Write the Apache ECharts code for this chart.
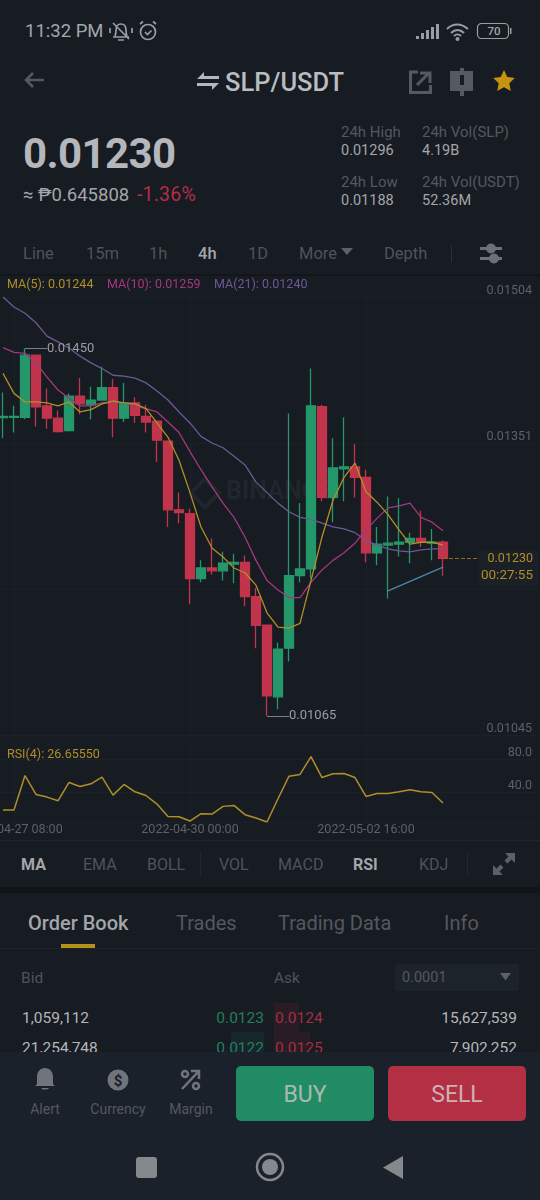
<!DOCTYPE html>
<html>
<head>
<meta charset="utf-8">
<title>SLP/USDT</title>
<script src="https://cdn.jsdelivr.net/npm/echarts@6/dist/echarts.min.js"></script>
<style>
html, body { margin: 0; padding: 0; background: #171b22; }
#page { position: relative; width: 540px; height: 1200px; overflow: hidden; background: #171b22; font-family: Roboto, "Noto Sans", sans-serif; }
#kline { position: absolute; left: 0; top: 276px; width: 540px; height: 564px; }
.t { position: absolute; white-space: nowrap; line-height: 24px; height: 24px; }
.box { position: absolute; }
svg { position: absolute; overflow: visible; }
</style>
</head>
<body>
<div id="page">
  <div class="box" style="left:0;top:274px;width:540px;height:2px;background:#12151a"></div>
  <div id="kline"></div>
  <div class="box" style="left:0;top:840px;width:540px;height:1px;background:#20252c"></div>
  <div class="box" style="left:0;top:887px;width:540px;height:6px;background:#111418"></div>
  <div class="box" style="left:0;top:948px;width:540px;height:1px;background:#1e232a"></div>
  <div class="box" style="left:61px;top:944px;width:34px;height:4px;background:#b4901c"></div>
  <div class="box" style="left:395px;top:964px;width:124px;height:27px;background:#1d232b;border-radius:3px"></div>
  <div class="box" style="left:274px;top:1003px;width:25px;height:49px;background:#2a1c25"></div>
  <div class="box" style="left:299px;top:1032px;width:11px;height:20px;background:#2a1c25"></div>
  <div class="box" style="left:231px;top:1032px;width:33px;height:20px;background:#16262a"></div>
  <div id="texts"></div>
  <div class="box" style="left:0;top:1052px;width:540px;height:148px;background:#1b212a"></div>
  <div class="box" style="left:236px;top:1066px;width:138px;height:55px;background:#218c63;border-radius:5px"></div>
  <div class="box" style="left:388px;top:1066px;width:138px;height:55px;background:#b32f44;border-radius:5px"></div>
  <div id="texts2"></div>

  <!-- status bar icons -->
  <svg style="left:110px;top:20px" width="50" height="24" fill="none" stroke="#9a9da2" stroke-width="1.7">
    <path d="M3 17h16M5 16c1-2 1-4 1-6 0-4 2-6 5-6s5 2 5 6c0 2 0 4 1 6M8 20h6M3 3l16 16M0 8v5M22 8v5"/>
    <circle cx="38" cy="12" r="7.5"/><path d="M35 12l2.5 2.5 4-4M30 4l3-2.500M46 4l-3-2.500"/>
  </svg>
  <svg style="left:416px;top:22px" width="100" height="20">
    <rect x="0" y="14" width="3" height="3" fill="#9a9da2"/><rect x="5" y="11" width="3" height="6" fill="#9a9da2"/>
    <rect x="10" y="8" width="3" height="9" fill="#9a9da2"/><rect x="15" y="5" width="3" height="12" fill="#9a9da2"/><rect x="20" y="2" width="3" height="15" fill="#9a9da2"/>
    <g fill="none" stroke="#9a9da2" stroke-width="2"><path d="M31 7c6-6 14-6 21 0M35 11c4-4 9-4 13 0M38 14c2-2 5-2 7 0"/></g>
    <circle cx="41.500" cy="17" r="2" fill="#9a9da2"/>
    <rect x="61.500" y="1.500" width="31" height="15" rx="4" fill="none" stroke="#9a9da2" stroke-width="1.200"/>
    <rect x="94" y="6" width="1.500" height="6" fill="#9a9da2"/>
  </svg>
  <!-- header icons -->
  <svg style="left:23px;top:70px" width="22" height="20" fill="none" stroke="#555a62" stroke-width="2.600"><path d="M21 10H3M10 3l-7 7 7 7"/></svg>
  <svg style="left:197px;top:70px" width="24" height="24" fill="#b4b7bb"><path d="M0 9l7-7v4h15v3zM22 13l-7 7v-4H0v-3h22z"/></svg>
  <svg style="left:409px;top:70px" width="24" height="24" fill="none" stroke="#555a62" stroke-width="3"><path d="M9 2H1.500v20.500h20V15M8 15L19 4M11 3h10v10"/></svg>
  <svg style="left:450px;top:68px" width="24" height="28" fill="#555a62"><rect x="0" y="3" width="10" height="20"/><rect x="14" y="3" width="9" height="20"/><rect x="10" y="0" width="4" height="28"/><rect x="10" y="7" width="4" height="10" fill="#171b22"/></svg>
  <svg style="left:493px;top:70px" width="22" height="22" fill="#c4930f"><path d="M11 0l3.300 7 7.500 1-5.500 5.200 1.500 7.800-6.800-3.800L4.200 21l1.500-7.800L.2 8l7.500-1z"/></svg>
  <!-- tab bar -->
  <svg style="left:341px;top:248px" width="13" height="8" fill="#5c6068"><path d="M0 0h12l-6 7z"/></svg>
  <div class="box" style="left:451px;top:245px;width:1px;height:17px;background:#2b3037"></div>
  <svg style="left:480px;top:243px" width="22" height="22" fill="#6d7177"><rect x="0" y="4" width="22" height="3"/><rect x="0" y="14" width="22" height="3"/><circle cx="11" cy="5.500" r="5"/><circle cx="14" cy="15.500" r="5"/></svg>
  <!-- indicator bar -->
  <div class="box" style="left:200px;top:852px;width:1px;height:24px;background:#23282f"></div>
  <div class="box" style="left:467px;top:852px;width:1px;height:24px;background:#23282f"></div>
  <svg style="left:493px;top:853px" width="22" height="22" fill="#5c6068"><path d="M22 0v10l-3.500-3.500-4 4-3-3 4-4L12 0zM0 22V12l3.500 3.500 4-4 3 3-4 4L10 22z"/></svg>
  <!-- order book arrow -->
  <svg style="left:500px;top:973px" width="12" height="8" fill="#5c6068"><path d="M0 0h11l-5.500 7.500z"/></svg>
  <!-- bottom bar icons -->
  <svg style="left:35px;top:1067px" width="20" height="24" fill="#71757b"><path d="M10 1c5 0 8 4 8 9v7l2 2H0l2-2v-7c0-5 3-9 8-9zM6 21h8c-1 2-7 2-8 0z"/></svg>
  <svg style="left:107px;top:1069px" width="22" height="22"><circle cx="11" cy="11" r="10.500" fill="#71757b"/><text x="11" y="16.500" text-anchor="middle" font-family="Roboto" font-weight="700" font-size="15" fill="#1b212a">$</text></svg>
  <svg style="left:180px;top:1069px" width="22" height="22" fill="none" stroke="#71757b" stroke-width="2.500"><circle cx="5" cy="5" r="3"/><circle cx="16" cy="17" r="3"/><path d="M2 20L18 3M11 2h8v8"/></svg>
  <!-- nav bar -->
  <svg style="left:136px;top:1156px" width="22" height="22" fill="#85888d"><rect x="0" y="1" width="21" height="21" rx="3"/></svg>
  <svg style="left:255px;top:1152px" width="30" height="30"><circle cx="15" cy="15" r="13" fill="none" stroke="#85888d" stroke-width="2.500"/><circle cx="15" cy="15" r="8" fill="#85888d"/></svg>
  <svg style="left:383px;top:1156px" width="21" height="24" fill="#85888d"><path d="M20 0v23L0 11.500z"/></svg>
</div>
<script>
// chart data
var times = [
    '2022-04-27 04:00', '2022-04-27 08:00', '2022-04-27 12:00', '2022-04-27 16:00', '2022-04-27 20:00', '2022-04-28 00:00',
    '2022-04-28 04:00', '2022-04-28 08:00', '2022-04-28 12:00', '2022-04-28 16:00', '2022-04-28 20:00', '2022-04-29 00:00',
    '2022-04-29 04:00', '2022-04-29 08:00', '2022-04-29 12:00', '2022-04-29 16:00', '2022-04-29 20:00', '2022-04-30 00:00',
    '2022-04-30 04:00', '2022-04-30 08:00', '2022-04-30 12:00', '2022-04-30 16:00', '2022-04-30 20:00', '2022-05-01 00:00',
    '2022-05-01 04:00', '2022-05-01 08:00', '2022-05-01 12:00', '2022-05-01 16:00', '2022-05-01 20:00', '2022-05-02 00:00',
    '2022-05-02 04:00', '2022-05-02 08:00', '2022-05-02 12:00', '2022-05-02 16:00', '2022-05-02 20:00', '2022-05-03 00:00',
    '2022-05-03 04:00', '2022-05-03 08:00', '2022-05-03 12:00', '2022-05-03 16:00', '2022-05-03 20:00'
];
var opens = [0.013775, 0.01378, 0.01378, 0.01443, 0.0139, 0.01377, 0.01364, 0.014, 0.01391, 0.01396, 0.01409, 0.01377, 0.01393, 0.01379, 0.01374, 0.01353, 0.01281, 0.01277, 0.01209, 0.0122, 0.01217, 0.01224, 0.01226, 0.0119, 0.0116, 0.01085, 0.01136, 0.01212, 0.01219, 0.01389, 0.01294, 0.01324, 0.01326, 0.01315, 0.01236, 0.01244, 0.01245, 0.01247, 0.01251, 0.01246, 0.01247];
var closes = [0.01379, 0.01379, 0.01443, 0.01389, 0.01377, 0.01363, 0.014, 0.01392, 0.01396, 0.01409, 0.01377, 0.01393, 0.0138, 0.01373, 0.01354, 0.01281, 0.01278, 0.01209, 0.0122, 0.01217, 0.01225, 0.01226, 0.0119, 0.0116, 0.01086, 0.01135, 0.01212, 0.01219, 0.0139, 0.01294, 0.01325, 0.01326, 0.01315, 0.01236, 0.01245, 0.01246, 0.01247, 0.01251, 0.01248, 0.01247, 0.0123];
var lows = [0.01356, 0.01362, 0.01376, 0.01368, 0.01366, 0.01362, 0.01363, 0.01381, 0.01376, 0.01396, 0.01357, 0.01373, 0.01372, 0.01362, 0.01331, 0.01263, 0.01267, 0.01182, 0.01205, 0.01213, 0.01207, 0.01204, 0.0118, 0.01136, 0.01065, 0.01072, 0.01122, 0.01205, 0.01209, 0.0129, 0.01268, 0.0129, 0.01294, 0.01226, 0.01223, 0.01188, 0.01232, 0.01225, 0.01242, 0.01228, 0.01212];
var highs = [0.01404, 0.0139, 0.0145, 0.01443, 0.01408, 0.01385, 0.01403, 0.01419, 0.0141, 0.01431, 0.01418, 0.01414, 0.01399, 0.01391, 0.01374, 0.01353, 0.01299, 0.01282, 0.01228, 0.01251, 0.01237, 0.01235, 0.01233, 0.01199, 0.0116, 0.01142, 0.01382, 0.01288, 0.01429, 0.01391, 0.01356, 0.01378, 0.0135, 0.01323, 0.01263, 0.01295, 0.01293, 0.01257, 0.0128, 0.01261, 0.01249];
var ma5 = [0.01424, 0.01403, 0.01394, 0.01394, 0.01393, 0.0139, 0.01394, 0.013835, 0.01386, 0.01392, 0.01395, 0.01393, 0.01392, 0.01387, 0.01372, 0.01357, 0.01333, 0.01299, 0.01263, 0.01241, 0.012315, 0.0122, 0.01215, 0.01202, 0.01173, 0.01158, 0.01157, 0.01162, 0.01207, 0.012525, 0.01291, 0.01315, 0.0133, 0.013, 0.01289, 0.01276, 0.0126, 0.01245, 0.01247, 0.01247, 0.01244];
var ma10 = [0.01451, 0.01446, 0.01445, 0.01435, 0.0142, 0.014065, 0.01398, 0.0139, 0.0139, 0.01393, 0.01394, 0.01393, 0.0139, 0.01387, 0.013835, 0.01373, 0.01362, 0.01342, 0.01323, 0.01305, 0.01288, 0.01273, 0.012525, 0.01228, 0.01207, 0.01197, 0.01189, 0.01189, 0.01205, 0.01218, 0.01228, 0.01236, 0.01246, 0.0126, 0.01272, 0.01283, 0.01285, 0.01288, 0.01273, 0.01268, 0.01259];
var ma21 = [0.01504, 0.014935, 0.01487, 0.01477, 0.01463, 0.01457, 0.014506, 0.01442, 0.01435, 0.01429, 0.01422, 0.01421, 0.01419, 0.01414, 0.014055, 0.01396, 0.013835, 0.01372, 0.01358, 0.01351, 0.01346, 0.01337, 0.01328, 0.0131, 0.01299, 0.01288, 0.01279, 0.01273, 0.01271, 0.01267, 0.01263, 0.01261, 0.01257, 0.01249, 0.01244, 0.0124, 0.01238, 0.01237, 0.01239, 0.0124, 0.0124];
var rsi = [18.1, 18.1, 60.5, 37.3, 34, 29.5, 52, 47, 50.3, 58.5, 36.4, 49.5, 40.5, 36, 25.4, 10.3, 9.9, 4.6, 13.6, 13.2, 22.6, 23.8, 12.4, 8.3, 3.4, 32, 59.7, 61.8, 83.8, 58, 62.6, 63, 58, 34.8, 38.5, 38.5, 40.5, 43, 40.5, 39.7, 26.66];
var priceTicks = [0.01045, 0.01198, 0.01351, 0.01504];
var rsiTicks = [40, 80];
var timeTickIdx = [1, 17, 33];
var trendLine = [[35, 0.01196], [40, 0.01221]];
var lastPrice = 0.0123;
var lastPriceLabel = '0.01230';
var countdown = '00:27:55';
var highMark = 0.0145, lowMark = 0.01065;
var maLegend = ['MA(5): 0.01244', 'MA(10): 0.01259', 'MA(21): 0.01240'];
var rsiLegend = 'RSI(4): 26.65550';

var GOLD = '#b08f28', PINK = '#a4387f', PURPLE = '#6b5a96', UP = '#24976b', DOWN = '#c2344b';
var GRIDLINE = '#1c2027', AXISTEXT = '#5d6168', MARKTEXT = '#9b9ea3', FONT = 'Roboto';

// app chrome around the chart: text, x, centre y, size, colour, weight, anchor, letter spacing
var chrome = [
    ['11:32 PM', 25, 31, 18.5, '#a3a6aa', 400],
    ['SLP/USDT', 225, 82, 25.5, '#b9bcc0', 500],
    ['0.01230', 23, 154, 42, '#b4b7bb', 700, '', -0.6],
    ['≈ ₱0.645808', 23, 195, 18.5, '#a3a6aa', 400],
    ['-1.36%', 137, 195, 19.5, '#b02f45', 400, '', 0.2],
    ['24h High', 341, 132, 15, '#54585f', 400],
    ['24h Vol(SLP)', 422, 132, 15, '#54585f', 400],
    ['0.01296', 341, 151, 14.5, '#a3a6aa', 400],
    ['4.19B', 422, 151, 14.5, '#a3a6aa', 400],
    ['24h Low', 341, 182, 15, '#54585f', 400],
    ['24h Vol(USDT)', 422, 182, 15, '#54585f', 400],
    ['0.01188', 341, 201, 14.5, '#a3a6aa', 400],
    ['52.36M', 422, 201, 14.5, '#a3a6aa', 400],
    ['Line', 23, 254, 16.5, '#4f535a', 400],
    ['15m', 86, 254, 16.5, '#4f535a', 400],
    ['1h', 149, 254, 16.5, '#4f535a', 400],
    ['4h', 198, 254, 16.5, '#a3a6aa', 500],
    ['1D', 248, 254, 16.5, '#4f535a', 400],
    ['More', 299, 254, 16.5, '#4f535a', 400],
    ['Depth', 384, 254, 16.5, '#4f535a', 400],
    ['MA', 21, 865, 16, '#a3a6aa', 700],
    ['EMA', 83, 865, 16, '#4f535a', 400],
    ['BOLL', 147, 865, 16, '#4f535a', 400],
    ['VOL', 219, 865, 16, '#4f535a', 400],
    ['MACD', 278, 865, 16, '#4f535a', 400],
    ['RSI', 353, 865, 16, '#a3a6aa', 700],
    ['KDJ', 419, 865, 16, '#4f535a', 400],
    ['Order Book', 28, 923, 20, '#a3a6aa', 500],
    ['Trades', 176, 923, 20, '#54585f', 400],
    ['Trading Data', 278, 923, 20, '#54585f', 400],
    ['Info', 444, 923, 20, '#54585f', 400],
    ['Bid', 21, 978, 15.5, '#4f535a', 400],
    ['Ask', 274, 978, 15.5, '#4f535a', 400],
    ['0.0001', 402, 978, 14.5, '#54585f', 400],
    ['1,059,112', 22, 1018, 15.5, '#b4b7bb', 400],
    ['0.0123', 264, 1018, 15.5, '#23805d', 400, 'right'],
    ['0.0124', 275, 1018, 15.5, '#a42e42', 400],
    ['15,627,539', 517, 1018, 15.5, '#b4b7bb', 400, 'right'],
    ['21,254,748', 22, 1048, 15.5, '#b4b7bb', 400],
    ['0.0122', 264, 1048, 15.5, '#23805d', 400, 'right'],
    ['0.0125', 275, 1048, 15.5, '#a42e42', 400],
    ['7,902,252', 517, 1048, 15.5, '#b4b7bb', 400, 'right']
];
var chromeOver = [
    ['70', 494, 31, 11.5, '#a3a6aa', 500, 'center'],
    ['Alert', 45, 1109, 14, '#54585f', 400, 'center'],
    ['Currency', 118, 1109, 14, '#54585f', 400, 'center'],
    ['Margin', 191, 1109, 14, '#54585f', 400, 'center'],
    ['BUY', 305, 1095, 23, '#abb8b2', 400, 'center'],
    ['SELL', 457, 1095, 23, '#cdb1b5', 400, 'center']
];
function putText(list, holder) {
    list.forEach(function (c) {
        var el = document.createElement('span');
        el.className = 't';
        el.textContent = c[0];
        el.style.top = (c[2] - 12) + 'px';
        el.style.fontSize = c[3] + 'px';
        el.style.color = c[4];
        el.style.fontWeight = c[5];
        if (c[7]) {
            el.style.letterSpacing = c[7] + 'px';
        }
        if (c[6] == 'right') {
            el.style.right = (540 - c[1]) + 'px';
        } else if (c[6] == 'center') {
            el.style.left = c[1] + 'px';
            el.style.transform = 'translateX(-50%)';
        } else {
            el.style.left = c[1] + 'px';
        }
        document.getElementById(holder).appendChild(el);
    });
}
putText(chrome, 'texts');
putText(chromeOver, 'texts2');

var categories = times.slice();
// empty slots keep the right side of the grid free for the price labels
for (var i = 0; i < 8; i++) {
    categories.push('');
}
var candles = opens.map(function (o, i) {
    return [o, closes[i], lows[i], highs[i]];
});
function isTimeTick(i) {
    return timeTickIdx.indexOf(i) >= 0;
}
function maLine(data, color) {
    return {
        type: 'line', data: data, xAxisIndex: 0, yAxisIndex: 0, symbol: 'none', silent: true,
        lineStyle: {color: color, width: 1.3}, animation: false, z: 3
    };
}
function noteLine(a, b, style, label) {
    return [{coord: a, lineStyle: style, label: label || {show: false}}, {coord: b}];
}
function markLabel(text) {
    return {show: true, position: 'end', formatter: text, distance: 0, color: MARKTEXT, fontSize: 13, fontFamily: FONT};
}
var noteStyle = {color: '#7c7f84', width: 1, type: 'solid'};

var option = {
    animation: false,
    backgroundColor: 'transparent',
    grid: [
        {left: -2.5, right: 3.5, top: 21, height: 438, outerBoundsMode: 'none'},
        {left: -2.5, right: 3.5, top: 467.4, height: 78.6, outerBoundsMode: 'none'}
    ],
    xAxis: [
        {
            type: 'category', gridIndex: 0, data: categories, boundaryGap: true,
            axisLine: {lineStyle: {color: GRIDLINE}}, axisTick: {show: false}, axisLabel: {show: false},
            splitLine: {show: true, interval: isTimeTick, alignWithLabel: true, lineStyle: {color: GRIDLINE, width: 1}}
        },
        {
            type: 'category', gridIndex: 1, data: categories, boundaryGap: true,
            axisLine: {lineStyle: {color: GRIDLINE}}, axisTick: {show: false},
            axisLabel: {interval: isTimeTick, color: AXISTEXT, fontSize: 12.5, fontFamily: FONT, margin: 1},
            splitLine: {show: true, interval: isTimeTick, alignWithLabel: true, lineStyle: {color: GRIDLINE, width: 1}}
        }
    ],
    yAxis: [
        {
            type: 'value', gridIndex: 0, min: 0.01045, max: 0.01504, position: 'right',
            axisLine: {show: false},
            axisTick: {show: false, customValues: priceTicks},
            axisLabel: {
                inside: true, customValues: priceTicks, margin: 4.5, verticalAlign: 'bottom', lineHeight: 13,
                color: AXISTEXT, fontSize: 12.5, fontFamily: FONT,
                formatter: function (v) { return v.toFixed(5); }
            },
            splitLine: {lineStyle: {color: GRIDLINE, width: 1}}
        },
        {
            type: 'value', gridIndex: 1, min: 3.4, max: 100, position: 'right',
            axisLine: {show: false},
            axisTick: {show: false, customValues: rsiTicks},
            axisLabel: {
                inside: true, customValues: rsiTicks, margin: 4.5, verticalAlign: 'bottom', lineHeight: 13,
                color: AXISTEXT, fontSize: 12.5, fontFamily: FONT,
                formatter: function (v) { return v.toFixed(1); }
            },
            splitLine: {lineStyle: {color: GRIDLINE, width: 1}}
        }
    ],
    series: [
        {
            type: 'candlestick', data: candles, xAxisIndex: 0, yAxisIndex: 0, barWidth: 9.2, silent: true,
            itemStyle: {color: UP, color0: DOWN, borderColor: UP, borderColor0: DOWN, borderWidth: 1.3},
            markLine: {
                silent: true, symbol: ['none', 'none'], animation: false,
                data: [
                    noteLine([2, highMark], [4, highMark], noteStyle, markLabel('0.01450')),
                    noteLine([24, lowMark], [26, lowMark], noteStyle, markLabel('0.01065')),
                    noteLine(trendLine[0], trendLine[1], {color: '#4a88a6', width: 1.4, type: 'solid'}),
                    noteLine([40, lastPrice], [44, lastPrice], {color: '#8a7122', width: 1, type: 'dashed'})
                ]
            }
        },
        maLine(ma21, PURPLE),
        maLine(ma10, PINK),
        maLine(ma5, GOLD),
        {
            type: 'line', data: rsi, xAxisIndex: 1, yAxisIndex: 1, symbol: 'none', silent: true,
            lineStyle: {color: GOLD, width: 1.5}
        }
    ],
    graphic: [
        // watermark under the candles
        {type: 'rect', z: 0, x: 205, y: 217, rotation: Math.PI / 4, shape: {x: -10, y: -10, width: 20, height: 20}, style: {fill: 'none', stroke: '#21252c', lineWidth: 4}},
        {type: 'text', z: 0, x: 226, y: 217, style: {text: 'BINANCE', fill: '#21252c', font: 'bold 25px Roboto', verticalAlign: 'middle'}},
        // legends
        {type: 'text', z: 10, x: 7, y: 9, style: {text: maLegend[0], fill: GOLD, font: '12.5px Roboto', verticalAlign: 'middle'}},
        {type: 'text', z: 10, x: 107, y: 9, style: {text: maLegend[1], fill: PINK, font: '12.5px Roboto', verticalAlign: 'middle'}},
        {type: 'text', z: 10, x: 214, y: 9, style: {text: maLegend[2], fill: PURPLE, font: '12.5px Roboto', verticalAlign: 'middle'}},
        {type: 'text', z: 10, x: 7, y: 479, style: {text: rsiLegend, fill: GOLD, font: '12.5px Roboto', verticalAlign: 'middle'}},
        // last price and countdown box
        {type: 'rect', z: 9, shape: {x: 478, y: 275, width: 60, height: 35}, style: {fill: '#1b1f26'}},
        {type: 'text', z: 10, x: 533, y: 283, style: {text: lastPriceLabel, fill: GOLD, font: '12.5px Roboto', align: 'right', verticalAlign: 'middle'}},
        {type: 'text', z: 10, x: 533, y: 300, style: {text: countdown, fill: GOLD, font: '13.5px Roboto', align: 'right', verticalAlign: 'middle'}}
    ]
};
var myChart = echarts.init(document.getElementById('kline'));
myChart.setOption(option, true);
</script>
</body>
</html>
